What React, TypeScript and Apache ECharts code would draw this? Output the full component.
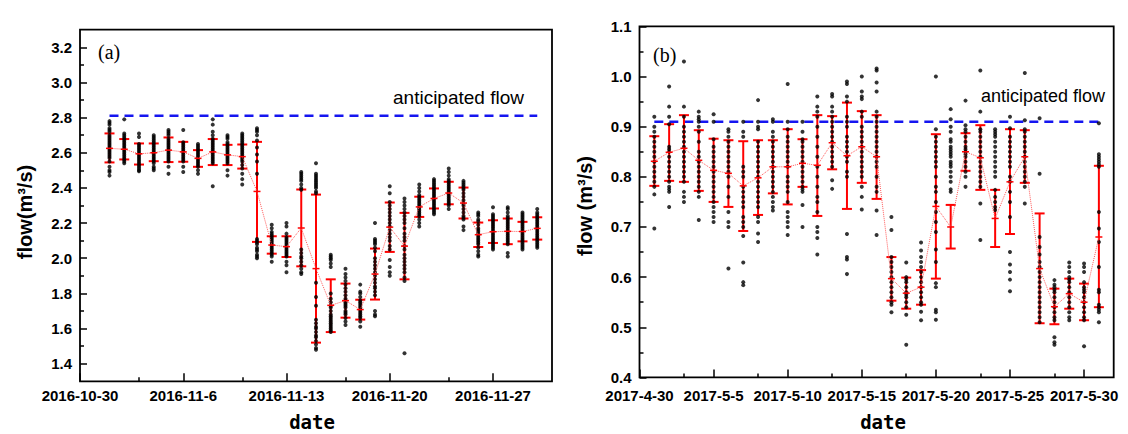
import React, { useEffect, useRef } from 'react';
import * as echarts from 'echarts';

// ---------------- Panel (a) data : November 2016 ----------------
const aOrigin = '2016-10-30';
const aAxisEnd = '2016-12-1';
const aYear = 2016;
const aMonth = 11;
const aDays = [1, 2, 3, 4, 5, 6, 7, 8, 9, 10, 11, 12, 13, 14, 15, 16, 17, 18, 19, 20, 21, 22, 23, 24, 25, 26, 27, 28, 29, 30];
const aTickLabels = ['2016-10-30', '2016-11-6', '2016-11-13', '2016-11-20', '2016-11-27'];
const aMinorTickDates = ['2016-11-3', '2016-11-10', '2016-11-17', '2016-11-24'];
const aYTicks = [1.4, 1.6, 1.8, 2.0, 2.2, 2.4, 2.6, 2.8, 3.0, 3.2];
const aYMinorTicks = [1.5, 1.7, 1.9, 2.1, 2.3, 2.5, 2.7, 2.9, 3.1];
const aYMin = 1.3;
const aYMax = 3.3;
const aAnticipated = 2.81;
const aMean = [2.625, 2.62, 2.594, 2.6, 2.615, 2.605, 2.568, 2.605, 2.588, 2.578, 2.38, 2.075, 2.066, 2.172, 1.941, 1.732, 1.759, 1.708, 1.91, 2.177, 2.069, 2.292, 2.34, 2.371, 2.314, 2.134, 2.151, 2.153, 2.152, 2.17];
const aLower = [2.545, 2.562, 2.533, 2.552, 2.547, 2.549, 2.52, 2.53, 2.53, 2.51, 2.093, 2.026, 2.007, 1.954, 1.52, 1.58, 1.662, 1.651, 1.765, 2.036, 1.88, 2.235, 2.283, 2.307, 2.226, 2.064, 2.087, 2.08, 2.096, 2.106];
const aUpper = [2.71, 2.678, 2.653, 2.653, 2.687, 2.662, 2.615, 2.678, 2.645, 2.647, 2.662, 2.125, 2.125, 2.391, 2.362, 1.88, 1.856, 1.764, 2.055, 2.317, 2.258, 2.35, 2.397, 2.435, 2.402, 2.203, 2.216, 2.226, 2.207, 2.233];
const aPoints: number[][] = [
  [2.78, 2.77, 2.76, 2.74, 2.73, 2.72, 2.70, 2.69, 2.68, 2.67, 2.66, 2.65, 2.64, 2.63, 2.62, 2.61, 2.60, 2.59, 2.58, 2.57, 2.55, 2.52, 2.50, 2.49, 2.47],
  [2.79, 2.71, 2.70, 2.69, 2.68, 2.67, 2.66, 2.65, 2.64, 2.63, 2.62, 2.61, 2.60, 2.59, 2.58, 2.57, 2.56, 2.55, 2.54],
  [2.71, 2.69, 2.65, 2.64, 2.63, 2.62, 2.61, 2.60, 2.59, 2.58, 2.57, 2.56, 2.55, 2.54, 2.53, 2.52, 2.51, 2.50, 2.495],
  [2.70, 2.69, 2.68, 2.67, 2.66, 2.65, 2.64, 2.63, 2.62, 2.61, 2.60, 2.59, 2.58, 2.57, 2.56, 2.55, 2.54, 2.52, 2.51, 2.50],
  [2.73, 2.72, 2.71, 2.70, 2.68, 2.67, 2.66, 2.65, 2.64, 2.63, 2.62, 2.61, 2.60, 2.59, 2.58, 2.57, 2.56, 2.55, 2.52, 2.48],
  [2.73, 2.66, 2.65, 2.64, 2.63, 2.62, 2.61, 2.60, 2.59, 2.58, 2.57, 2.56, 2.55, 2.52, 2.49],
  [2.65, 2.64, 2.63, 2.62, 2.61, 2.60, 2.59, 2.58, 2.57, 2.56, 2.55, 2.54, 2.53, 2.52, 2.50, 2.48],
  [2.79, 2.76, 2.72, 2.70, 2.68, 2.67, 2.66, 2.65, 2.64, 2.63, 2.62, 2.61, 2.60, 2.59, 2.58, 2.57, 2.56, 2.55, 2.54, 2.41],
  [2.70, 2.69, 2.68, 2.66, 2.65, 2.64, 2.63, 2.62, 2.61, 2.60, 2.59, 2.58, 2.57, 2.56, 2.55, 2.54, 2.50, 2.47],
  [2.71, 2.70, 2.69, 2.68, 2.67, 2.66, 2.65, 2.64, 2.63, 2.62, 2.61, 2.60, 2.59, 2.58, 2.57, 2.56, 2.55, 2.53, 2.51, 2.48, 2.45, 2.42],
  [2.74, 2.73, 2.72, 2.70, 2.67, 2.63, 2.59, 2.55, 2.48, 2.11, 2.10, 2.09, 2.08, 2.06, 2.05, 2.04, 2.02, 2.01, 2.00],
  [2.19, 2.17, 2.15, 2.14, 2.13, 2.12, 2.11, 2.10, 2.09, 2.08, 2.07, 2.06, 2.05, 2.04, 2.03, 2.02, 2.01, 1.98],
  [2.20, 2.18, 2.14, 2.12, 2.11, 2.10, 2.09, 2.08, 2.07, 2.06, 2.05, 2.04, 2.03, 2.02, 2.01, 1.98, 1.96, 1.92],
  [2.49, 2.48, 2.47, 2.46, 2.45, 2.44, 2.42, 2.40, 2.39, 2.05, 2.03, 2.01, 2.00, 1.98, 1.96, 1.94, 1.92, 1.91],
  [2.54, 2.48, 2.47, 2.46, 2.45, 2.44, 2.43, 2.42, 2.41, 2.40, 2.38, 2.37, 1.86, 1.78, 1.73, 1.65, 1.63, 1.61, 1.60, 1.58, 1.56, 1.55, 1.53, 1.51, 1.49, 1.48],
  [2.02, 2.01, 2.00, 1.99, 1.97, 1.95, 1.80, 1.77, 1.75, 1.73, 1.72, 1.70, 1.68, 1.67, 1.66, 1.65, 1.64, 1.63, 1.62, 1.61, 1.60, 1.59, 1.58],
  [1.94, 1.91, 1.89, 1.87, 1.85, 1.83, 1.81, 1.79, 1.77, 1.76, 1.75, 1.74, 1.73, 1.72, 1.70, 1.69, 1.68, 1.66, 1.64, 1.62],
  [1.85, 1.81, 1.80, 1.78, 1.76, 1.75, 1.74, 1.73, 1.72, 1.71, 1.70, 1.69, 1.68, 1.67, 1.66, 1.64, 1.61],
  [2.20, 2.11, 2.10, 2.09, 2.08, 2.06, 2.04, 2.00, 1.98, 1.96, 1.94, 1.92, 1.90, 1.88, 1.86, 1.84, 1.83, 1.81, 1.79, 1.70, 1.68, 1.67],
  [2.41, 2.37, 2.32, 2.30, 2.28, 2.26, 2.24, 2.22, 2.20, 2.18, 2.16, 2.14, 2.12, 2.10, 2.07, 2.05, 1.99, 1.95, 1.92, 1.90],
  [2.34, 2.32, 2.30, 2.28, 2.26, 2.24, 2.22, 2.20, 2.17, 2.14, 2.12, 2.10, 2.07, 2.05, 2.02, 2.00, 1.98, 1.96, 1.94, 1.92, 1.89, 1.87, 1.46],
  [2.42, 2.40, 2.38, 2.36, 2.35, 2.34, 2.33, 2.32, 2.31, 2.30, 2.29, 2.28, 2.27, 2.26, 2.25, 2.24, 2.22, 2.20, 2.18],
  [2.45, 2.44, 2.43, 2.42, 2.41, 2.40, 2.39, 2.38, 2.37, 2.36, 2.35, 2.34, 2.33, 2.32, 2.31, 2.30, 2.29, 2.28, 2.27, 2.26, 2.25],
  [2.51, 2.49, 2.47, 2.45, 2.44, 2.43, 2.42, 2.41, 2.40, 2.39, 2.38, 2.37, 2.36, 2.35, 2.34, 2.33, 2.32, 2.31, 2.30, 2.28],
  [2.44, 2.43, 2.42, 2.41, 2.40, 2.39, 2.37, 2.35, 2.33, 2.31, 2.30, 2.28, 2.26, 2.24, 2.23, 2.22, 2.18, 2.16],
  [2.26, 2.25, 2.24, 2.22, 2.21, 2.19, 2.17, 2.16, 2.15, 2.14, 2.13, 2.12, 2.11, 2.10, 2.09, 2.08, 2.06, 2.04, 2.02, 2.01],
  [2.29, 2.25, 2.24, 2.23, 2.22, 2.21, 2.20, 2.19, 2.18, 2.17, 2.16, 2.15, 2.14, 2.13, 2.12, 2.11, 2.10, 2.09, 2.08, 2.07, 2.06, 2.05],
  [2.29, 2.28, 2.26, 2.24, 2.23, 2.22, 2.21, 2.20, 2.19, 2.18, 2.17, 2.16, 2.15, 2.14, 2.13, 2.12, 2.11, 2.10, 2.09, 2.08, 2.03, 2.01],
  [2.26, 2.25, 2.24, 2.23, 2.22, 2.21, 2.20, 2.19, 2.18, 2.17, 2.16, 2.15, 2.14, 2.13, 2.12, 2.11, 2.10, 2.09, 2.08, 2.07, 2.06, 2.05],
  [2.28, 2.26, 2.25, 2.24, 2.23, 2.22, 2.21, 2.20, 2.19, 2.18, 2.17, 2.16, 2.15, 2.14, 2.13, 2.12, 2.11, 2.10, 2.09, 2.08, 2.07, 2.06],
];

// ---------------- Panel (b) data : May 2017 ----------------
const bOrigin = '2017-4-30';
const bAxisEnd = '2017-6-1';
const bYear = 2017;
const bMonth = 5;
const bDays = [1, 2, 3, 4, 5, 6, 7, 8, 9, 10, 11, 12, 13, 14, 15, 16, 17, 18, 19, 20, 21, 22, 23, 24, 25, 26, 27, 28, 29, 30, 31];
const bTickLabels = ['2017-4-30', '2017-5-5', '2017-5-10', '2017-5-15', '2017-5-20', '2017-5-25', '2017-5-30'];
const bMinorTickDates = ['2017-5-3', '2017-5-8', '2017-5-13', '2017-5-18', '2017-5-23', '2017-5-28'];
const bYTicks = [0.4, 0.5, 0.6, 0.7, 0.8, 0.9, 1.0, 1.1];
const bYMinorTicks = [0.45, 0.55, 0.65, 0.75, 0.85, 0.95, 1.05];
const bYMin = 0.4;
const bYMax = 1.1;
const bAnticipated = 0.91;
const bMean = [0.831, 0.849, 0.857, 0.833, 0.813, 0.807, 0.782, 0.798, 0.82, 0.82, 0.827, 0.823, 0.868, 0.842, 0.86, 0.84, 0.597, 0.568, 0.58, 0.741, 0.70, 0.85, 0.838, 0.717, 0.79, 0.84, 0.617, 0.541, 0.567, 0.55, 0.68];
const bLower = [0.782, 0.792, 0.79, 0.772, 0.75, 0.74, 0.692, 0.724, 0.767, 0.745, 0.78, 0.722, 0.815, 0.736, 0.788, 0.756, 0.553, 0.537, 0.545, 0.597, 0.657, 0.812, 0.774, 0.66, 0.686, 0.788, 0.508, 0.506, 0.537, 0.514, 0.54];
const bUpper = [0.881, 0.905, 0.923, 0.893, 0.876, 0.873, 0.871, 0.873, 0.873, 0.895, 0.875, 0.923, 0.921, 0.948, 0.931, 0.923, 0.64, 0.599, 0.614, 0.885, 0.744, 0.887, 0.903, 0.774, 0.895, 0.893, 0.727, 0.577, 0.597, 0.587, 0.822];
const bPoints: number[][] = [
  [0.92, 0.90, 0.89, 0.88, 0.87, 0.86, 0.85, 0.84, 0.83, 0.82, 0.81, 0.80, 0.79, 0.78, 0.765, 0.697],
  [0.98, 0.94, 0.92, 0.905, 0.86, 0.855, 0.85, 0.84, 0.83, 0.82, 0.81, 0.80, 0.79, 0.78, 0.775, 0.77, 0.74],
  [1.03, 0.94, 0.92, 0.90, 0.89, 0.88, 0.87, 0.86, 0.85, 0.84, 0.83, 0.82, 0.81, 0.80, 0.79, 0.77, 0.76, 0.75],
  [0.93, 0.92, 0.915, 0.91, 0.90, 0.89, 0.87, 0.85, 0.84, 0.83, 0.82, 0.81, 0.80, 0.79, 0.78, 0.77, 0.76, 0.714],
  [0.925, 0.91, 0.875, 0.86, 0.85, 0.84, 0.83, 0.82, 0.81, 0.80, 0.79, 0.78, 0.77, 0.76, 0.75, 0.74, 0.73, 0.72, 0.71],
  [0.895, 0.89, 0.88, 0.87, 0.86, 0.85, 0.84, 0.83, 0.82, 0.81, 0.80, 0.78, 0.76, 0.73, 0.71, 0.70, 0.617],
  [0.91, 0.89, 0.88, 0.82, 0.81, 0.80, 0.78, 0.77, 0.76, 0.75, 0.74, 0.72, 0.71, 0.70, 0.682, 0.629, 0.59, 0.584],
  [0.953, 0.91, 0.90, 0.895, 0.87, 0.86, 0.85, 0.84, 0.83, 0.82, 0.81, 0.80, 0.79, 0.78, 0.77, 0.76, 0.75, 0.74, 0.72, 0.71, 0.687, 0.67],
  [0.915, 0.91, 0.89, 0.88, 0.87, 0.86, 0.85, 0.84, 0.83, 0.82, 0.81, 0.80, 0.79, 0.78, 0.77, 0.76, 0.75, 0.74, 0.733],
  [0.985, 0.91, 0.895, 0.88, 0.87, 0.86, 0.85, 0.84, 0.83, 0.82, 0.80, 0.79, 0.78, 0.77, 0.75, 0.73, 0.72, 0.71, 0.70, 0.684],
  [0.91, 0.89, 0.875, 0.87, 0.86, 0.85, 0.84, 0.83, 0.82, 0.81, 0.80, 0.79, 0.78, 0.775, 0.77, 0.744, 0.70],
  [0.96, 0.94, 0.93, 0.92, 0.90, 0.88, 0.86, 0.84, 0.82, 0.80, 0.78, 0.76, 0.75, 0.73, 0.70, 0.69, 0.678, 0.645],
  [0.965, 0.96, 0.94, 0.93, 0.92, 0.91, 0.90, 0.89, 0.88, 0.87, 0.86, 0.85, 0.84, 0.83, 0.82, 0.793, 0.776],
  [0.99, 0.985, 0.96, 0.95, 0.92, 0.91, 0.90, 0.88, 0.87, 0.86, 0.85, 0.84, 0.83, 0.81, 0.80, 0.686, 0.64, 0.635, 0.606],
  [1.0, 0.97, 0.96, 0.955, 0.93, 0.92, 0.90, 0.89, 0.88, 0.87, 0.86, 0.85, 0.84, 0.83, 0.82, 0.81, 0.80, 0.78, 0.76, 0.735],
  [1.016, 1.012, 0.988, 0.97, 0.93, 0.92, 0.91, 0.90, 0.89, 0.88, 0.87, 0.86, 0.85, 0.84, 0.83, 0.82, 0.80, 0.78, 0.77, 0.733, 0.684],
  [0.72, 0.694, 0.64, 0.63, 0.62, 0.61, 0.60, 0.59, 0.58, 0.57, 0.56, 0.55, 0.545, 0.53],
  [0.629, 0.60, 0.595, 0.59, 0.58, 0.57, 0.565, 0.56, 0.55, 0.54, 0.525, 0.465],
  [0.669, 0.653, 0.64, 0.63, 0.62, 0.61, 0.60, 0.59, 0.58, 0.57, 0.56, 0.55, 0.545, 0.531, 0.514],
  [1.0, 0.895, 0.88, 0.87, 0.86, 0.85, 0.84, 0.83, 0.82, 0.80, 0.78, 0.77, 0.75, 0.73, 0.71, 0.69, 0.655, 0.63, 0.588, 0.58, 0.535, 0.53, 0.515],
  [0.935, 0.915, 0.90, 0.89, 0.875, 0.87, 0.86, 0.855, 0.85, 0.845, 0.84, 0.83, 0.825, 0.82, 0.81, 0.80, 0.79, 0.775, 0.77],
  [0.952, 0.903, 0.895, 0.89, 0.88, 0.87, 0.86, 0.855, 0.85, 0.845, 0.84, 0.83, 0.82, 0.81, 0.80, 0.78],
  [1.012, 0.93, 0.895, 0.89, 0.88, 0.87, 0.86, 0.85, 0.84, 0.83, 0.82, 0.81, 0.80, 0.79, 0.78, 0.747, 0.674],
  [0.895, 0.89, 0.885, 0.88, 0.87, 0.86, 0.85, 0.84, 0.83, 0.82, 0.81, 0.80, 0.774, 0.76, 0.75, 0.74, 0.734],
  [0.92, 0.897, 0.88, 0.87, 0.86, 0.85, 0.84, 0.83, 0.82, 0.80, 0.79, 0.77, 0.75, 0.72, 0.65, 0.625, 0.61, 0.595, 0.572],
  [1.007, 0.913, 0.895, 0.89, 0.88, 0.87, 0.86, 0.85, 0.84, 0.83, 0.82, 0.81, 0.80, 0.79, 0.78, 0.747],
  [0.917, 0.806, 0.68, 0.66, 0.645, 0.63, 0.62, 0.61, 0.60, 0.59, 0.58, 0.57, 0.56, 0.55, 0.54, 0.53, 0.52, 0.51],
  [0.594, 0.585, 0.58, 0.575, 0.57, 0.56, 0.55, 0.54, 0.53, 0.52, 0.514, 0.48, 0.47, 0.465],
  [0.629, 0.62, 0.61, 0.60, 0.595, 0.59, 0.58, 0.57, 0.56, 0.55, 0.54, 0.53, 0.52, 0.514],
  [0.627, 0.62, 0.61, 0.59, 0.58, 0.575, 0.57, 0.56, 0.55, 0.54, 0.53, 0.52, 0.514, 0.462],
  [0.907, 0.845, 0.84, 0.835, 0.83, 0.825, 0.82, 0.73, 0.697, 0.67, 0.62, 0.575, 0.57, 0.545, 0.54, 0.535, 0.53, 0.51],
];

// ---------------- helpers ----------------
const DAY = 86400000;
const parseDate = (s: string) => {
  const [y, m, d] = s.split('-').map(Number);
  return Date.UTC(y, m - 1, d);
};
const offsetOf = (s: string, origin: string) => Math.round((parseDate(s) - parseDate(origin)) / DAY);

const FONT = '"Liberation Sans", Arial, sans-serif';
const RED = '#ff0000';

function buildPanel(
  idx: number,
  origin: string,
  axisEnd: string,
  year: number,
  month: number,
  days: number[],
  tickLabels: string[],
  minorDates: string[],
  yTicks: number[],
  yMinor: number[],
  yMin: number,
  yMax: number,
  anticipated: number,
  mean: number[],
  lower: number[],
  upper: number[],
  points: number[][],
  xLabelMargin: number
) {
  const xs = days.map((d) => offsetOf(`${year}-${month}-${d}`, origin));
  const tickPos = tickLabels.map((t) => offsetOf(t, origin));
  const labelMap: Record<number, string> = {};
  tickPos.forEach((p, i) => (labelMap[p] = tickLabels[i]));
  const minorPos = minorDates.map((t) => offsetOf(t, origin));
  const xMax = offsetOf(axisEnd, origin);

  const xAxes = [
    {
      type: 'value',
      gridIndex: idx,
      min: 0,
      max: xMax,
      position: 'bottom',
      axisLine: { show: false },
      splitLine: { show: false },
      axisTick: {
        inside: true,
        length: 8,
        customValues: tickPos,
        lineStyle: { color: '#000', width: 1.5 },
      },
      axisLabel: {
        customValues: tickPos,
        formatter: (v: number) => labelMap[Math.round(v)] ?? '',
        color: '#000',
        fontFamily: FONT,
        fontWeight: 'bold',
        fontSize: 15,
        margin: xLabelMargin,
      },
    },
    {
      type: 'value',
      gridIndex: idx,
      min: 0,
      max: xMax,
      position: 'bottom',
      axisLine: { show: false },
      splitLine: { show: false },
      axisTick: {
        inside: true,
        length: 4,
        customValues: minorPos,
        lineStyle: { color: '#000', width: 1.5 },
      },
      axisLabel: { show: false },
    },
  ];
  const yAxes = [
    {
      type: 'value',
      gridIndex: idx,
      min: yMin,
      max: yMax,
      position: 'left',
      axisLine: { show: false },
      splitLine: { show: false },
      axisTick: {
        inside: true,
        length: 7,
        customValues: yTicks,
        lineStyle: { color: '#000', width: 1.5 },
      },
      axisLabel: {
        customValues: yTicks,
        formatter: (v: number) => v.toFixed(1),
        color: '#000',
        fontFamily: FONT,
        fontWeight: 'bold',
        fontSize: 15,
        margin: 8,
      },
    },
    {
      type: 'value',
      gridIndex: idx,
      min: yMin,
      max: yMax,
      position: 'left',
      axisLine: { show: false },
      splitLine: { show: false },
      axisTick: {
        inside: true,
        length: 4,
        customValues: yMinor,
        lineStyle: { color: '#000', width: 1.5 },
      },
      axisLabel: { show: false },
    },
  ];

  const scatterData: number[][] = [];
  points.forEach((col, i) => col.forEach((v) => scatterData.push([xs[i], v])));

  const xi = idx * 2;
  const yi = idx * 2;
  const series = [
    {
      type: 'line',
      xAxisIndex: xi,
      yAxisIndex: yi,
      data: [
        [xs[0], anticipated],
        [xs[xs.length - 1], anticipated],
      ],
      symbol: 'none',
      lineStyle: { color: '#1515f0', width: 2.5, type: [9, 6] },
      z: 1,
      silent: true,
    },
    {
      type: 'custom',
      xAxisIndex: xi,
      yAxisIndex: yi,
      data: xs.map((x, i) => [x, lower[i], upper[i]]),
      encode: { x: 0, y: [1, 2] },
      renderItem: (_p: any, api: any) => {
        const x = api.value(0);
        const lo = api.coord([x, api.value(1)]);
        const hi = api.coord([x, api.value(2)]);
        const hw = 5;
        const st = { stroke: RED, lineWidth: 2 };
        return {
          type: 'group',
          children: [
            { type: 'line', shape: { x1: lo[0], y1: lo[1], x2: hi[0], y2: hi[1] }, style: st },
            { type: 'line', shape: { x1: lo[0] - hw, y1: lo[1], x2: lo[0] + hw, y2: lo[1] }, style: st },
            { type: 'line', shape: { x1: hi[0] - hw, y1: hi[1], x2: hi[0] + hw, y2: hi[1] }, style: st },
          ],
        };
      },
      z: 2,
      silent: true,
    },
    {
      type: 'scatter',
      xAxisIndex: xi,
      yAxisIndex: yi,
      data: scatterData,
      symbol: 'circle',
      symbolSize: 4,
      itemStyle: { color: '#000' },
      z: 3,
      silent: true,
    },
    {
      type: 'line',
      xAxisIndex: xi,
      yAxisIndex: yi,
      data: xs.map((x, i) => [x, mean[i]]),
      symbol: 'rect',
      symbolSize: [7, 1.5],
      itemStyle: { color: RED },
      lineStyle: { color: '#ff5a5a', width: 1, type: 'dotted' },
      z: 4,
      silent: true,
    },
  ];
  return { xAxes, yAxes, series };
}

export default function App() {
  const ref = useRef<HTMLDivElement>(null);
  useEffect(() => {
    if (!ref.current) return;
    const chart = echarts.init(ref.current, undefined, { renderer: 'svg' });
    const a = buildPanel(0, aOrigin, aAxisEnd, aYear, aMonth, aDays, aTickLabels, aMinorTickDates, aYTicks, aYMinorTicks, aYMin, aYMax, aAnticipated, aMean, aLower, aUpper, aPoints, 7);
    const b = buildPanel(1, bOrigin, bAxisEnd, bYear, bMonth, bDays, bTickLabels, bMinorTickDates, bYTicks, bYMinorTicks, bYMin, bYMax, bAnticipated, bMean, bLower, bUpper, bPoints, 11);
    const textStyle = (text: string, font: string, align = 'left') => ({
      text,
      font,
      fill: '#000',
      textAlign: align,
      textVerticalAlign: 'middle',
    });
    chart.setOption({
      animation: false,
      backgroundColor: '#fff',
      grid: [
        { left: 80, top: 29.7, width: 472, height: 351.6, show: true, borderColor: '#000', borderWidth: 1.8, backgroundColor: 'transparent' },
        { left: 639.5, top: 26.4, width: 474.2, height: 351, show: true, borderColor: '#000', borderWidth: 1.8, backgroundColor: 'transparent' },
      ],
      xAxis: [...a.xAxes, ...b.xAxes],
      yAxis: [...a.yAxes, ...b.yAxes],
      series: [...a.series, ...b.series],
      graphic: [
        { type: 'text', x: 98, y: 52, style: textStyle('(a)', '20px "Liberation Serif", serif') },
        { type: 'text', x: 653, y: 55, style: textStyle('(b)', '20px "Liberation Serif", serif') },
        { type: 'text', x: 393, y: 97, style: textStyle('anticipated flow', `19px ${FONT}`) },
        { type: 'text', x: 981, y: 96, style: textStyle('anticipated flow', `18px ${FONT}`) },
        { type: 'text', x: 25, y: 212, rotation: Math.PI / 2, style: textStyle('flow(m³/s)', `bold 20px ${FONT}`, 'center') },
        { type: 'text', x: 584.5, y: 206, rotation: Math.PI / 2, style: textStyle('flow (m³/s)', `bold 20px ${FONT}`, 'center') },
        { type: 'text', x: 312, y: 422, style: textStyle('date', 'bold 19px "DejaVu Sans Mono", monospace', 'center') },
        { type: 'text', x: 883, y: 422, style: textStyle('date', 'bold 19px "DejaVu Sans Mono", monospace', 'center') },
      ],
    });
    return () => chart.dispose();
  }, []);
  return (
    <div
      ref={ref}
      style={{ position: 'fixed', left: 0, top: 0, width: 1128, height: 434, background: '#fff' }}
    />
  );
}
